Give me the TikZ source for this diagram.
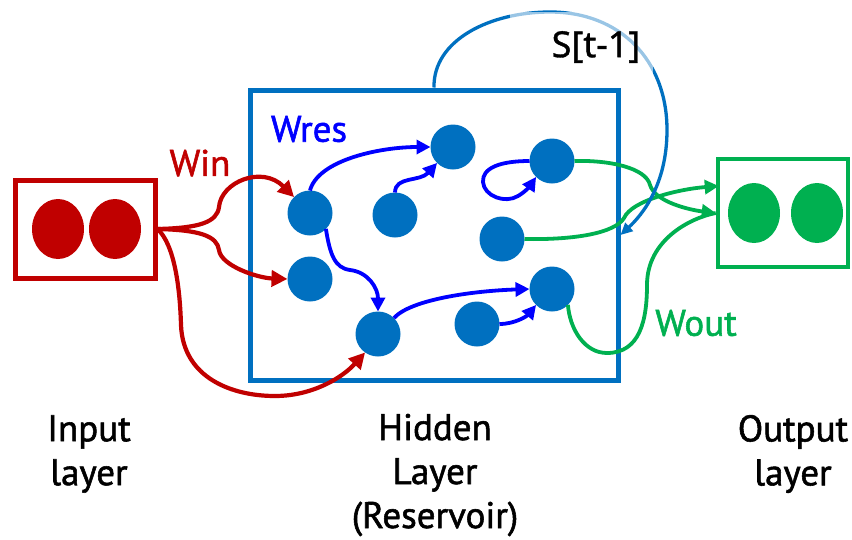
\documentclass[tikz,border=0pt]{standalone}
\usepackage{fontspec}
\setmainfont{PT Sans}[FakeBold=1.5]
\newfontfamily\stfont{Noto Sans}[FakeBold=1]
\usetikzlibrary{arrows.meta,calc,shapes.geometric}
\definecolor{cred}{HTML}{C00000}
\definecolor{cblue}{HTML}{0070C0}
\definecolor{pblue}{HTML}{0000FF}
\definecolor{cgreen}{HTML}{00B050}
\begin{document}
\begin{tikzpicture}[x=1pt,y=-1pt,
  neuron/.style={circle,fill=cblue,minimum size=45pt,inner sep=0pt,outer sep=0pt},
  unit/.style={ellipse,minimum width=52pt,minimum height=60pt,inner sep=0pt},
  layerbox/.style={rectangle,inner sep=0pt},
  lbl/.style={font=\fontsize{37}{44}\selectfont,inner sep=0pt,align=center},
  redarr/.style={draw=cred,line width=4.2pt,-{Triangle[length=16pt,width=16pt]}},
  bluearr/.style={draw=pblue,line width=3.8pt,-{Triangle[length=14pt,width=14pt]}},
  greenarr/.style={draw=cgreen,line width=3.8pt,-{Triangle[length=14pt,width=14pt]}},
  greenline/.style={draw=cgreen,line width=3.8pt},
  recarr/.style={draw=cblue,line width=3.3pt,-{Triangle[length=12pt,width=11pt]}}]
\useasboundingbox (0,0) rectangle (852,539);

% layer boxes
\node[layerbox,draw=cred,line width=5pt,minimum width=140pt,minimum height=98pt] (in) at (85,229) {};
\node[unit,fill=cred] (i1) at (58,229) {};
\node[unit,fill=cred] (i2) at (115,229) {};
\node[layerbox,draw=cblue,line width=5pt,minimum width=368pt,minimum height=290pt] (hid) at (434,235) {};
\node[layerbox,draw=cgreen,line width=4.5pt,minimum width=130pt,minimum height=108pt] (out) at (783,213) {};
\node[unit,fill=cgreen] (o1) at (754,213) {};
\node[unit,fill=cgreen] (o2) at (817,213) {};
\coordinate (outA) at ($(out.west)+(3,-27)$);

% neurons
\node[neuron] (n1) at (310,213) {};
\node[neuron] (n2) at (310,279) {};
\node[neuron] (n3) at (395,215) {};
\node[neuron] (n4) at (378,334) {};
\node[neuron] (n5) at (453,147) {};
\node[neuron] (n6) at (552,161) {};
\node[neuron] (n7) at (502,239) {};
\node[neuron] (n8) at (552,289) {};
\node[neuron] (n9) at (477,324) {};

% input weights
\draw[redarr] (in.east) .. controls (200,228) and (217,222) .. (219,207)
  .. controls (221,182) and (262,165) .. (n1.135);
\draw[redarr] (in.east) .. controls (200,230) and (217,236) .. (219,250)
  .. controls (221,266) and (258,278) .. (n2.west);
\draw[redarr] (in.east) .. controls (175,245) and (180,290) .. (181,325)
  .. controls (183,378) and (232,396) .. (275,396)
  .. controls (312,396) and (342,378) .. (n4.235);

% reservoir weights
\draw[bluearr] (n1.north) .. controls (318,160) and (380,147) .. (n5.west);
\draw[bluearr] (n3.north) .. controls (395,176) and (420,182) .. (n5.225);
\draw[bluearr] (n1.-45) .. controls (330,255) and (335,268) .. (350,270)
  .. controls (368,272) and (378,288) .. (n4.north);
\draw[bluearr] (n4.45) .. controls (410,300) and (470,291) .. (n8.west);
\draw[bluearr] (n9.east) .. controls (515,324) and (527,316) .. (n8.225);
\draw[bluearr] (n6.west) .. controls (500,161) and (482,168) .. (483,182)
  .. controls (484,196) and (505,204) .. (518,196)
  .. controls (525,192) and (530,186) .. (n6.225);

% output weights
\draw[greenarr] (n6.east) .. controls (610,160) and (646,168) .. (650,185)
  .. controls (655,202) and (690,210) .. (out.west);
\draw[greenarr] (n7.east) .. controls (575,240) and (615,233) .. (624,218)
  .. controls (632,200) and (680,189) .. (outA);
\draw[greenline] (n8.-45) .. controls (570,330) and (585,353) .. (607,353)
  .. controls (640,353) and (647,320) .. (647,285)
  .. controls (647,240) and (690,218) .. (out.west);

% recurrent state
\draw[recarr] (hid.north) .. controls (433,40) and (490,12) .. (550,12)
  .. controls (620,12) and (667,60) .. (667,130)
  .. controls (667,185) and (642,215) .. (hid.east);
\node[rectangle,fill=white,fill opacity=0.6,minimum width=143pt,minimum height=65pt,inner sep=0pt] (veil) at (581.5,44.5) {};

% labels
\node[lbl,text=cred] (win) at (200,163) {Win};
\node[lbl,text=pblue] (wres) at (309,129) {Wres};
\node[lbl,text=cgreen] (wout) at (696,323) {Wout};
\node[lbl,font=\stfont\fontsize{36}{40}\selectfont] (st) at (596,47) {S[t-1]};
\node[lbl] (linp) at (89,454) {Input\\layer};
\node[lbl] (lhid) at (435,475) {Hidden\\Layer\\(Reservoir)};
\node[lbl] (lout) at (793,454) {Output\\layer};
\end{tikzpicture}
\end{document}
